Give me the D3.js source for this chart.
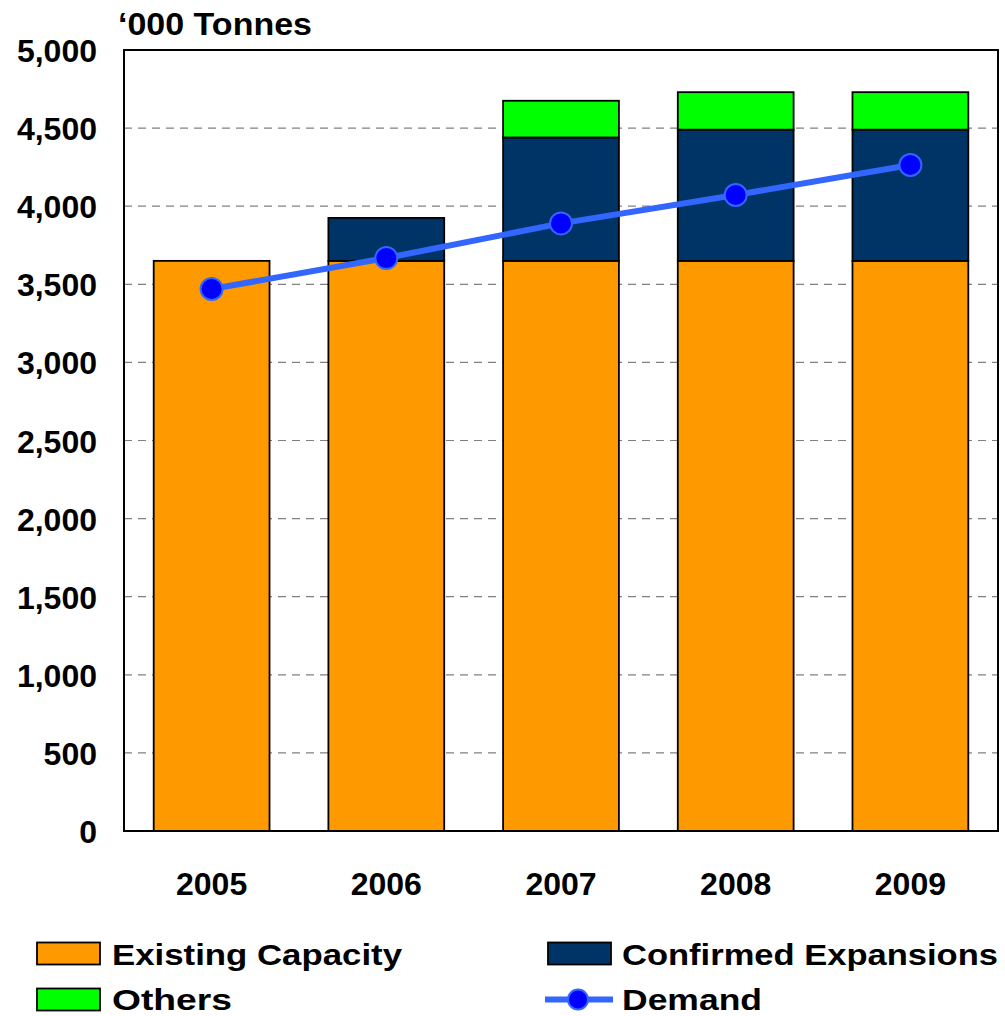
<!DOCTYPE html>
<html><head><meta charset="utf-8">
<script src="https://cdn.jsdelivr.net/npm/d3@7"></script>
<style>body{margin:0;background:#fff;}svg{display:block;font-family:"Liberation Sans",Arial,sans-serif;font-weight:bold;}</style>
</head><body>
<svg id="c" width="1005" height="1016"></svg>
<script>
const years = ["2005","2006","2007","2008","2009"];
const existing = [3650,3650,3650,3650,3650];
const confirmed = [0,275,790,840,840];
const others = [0,0,235,240,240];
const demand = [3470,3668,3890,4072,4264];
const yTicks = [0,500,1000,1500,2000,2500,3000,3500,4000,4500,5000];
const seriesNames = ["Existing Capacity","Confirmed Expansions","Others","Demand"];
const colors = {"Existing Capacity":"#FF9900","Confirmed Expansions":"#003366","Others":"#00FF00"};

const svg = d3.select("#c");
const L=124,R=998,T=50,B=831;
const x = d3.scaleBand().domain(years).range([L,R]).paddingInner(0.337).paddingOuter(0.17);
const y = d3.scaleLinear().domain([0,5000]).range([B,T]);

// grid
svg.append("g").selectAll("line").data(yTicks.filter(v=>v>0&&v<5000)).join("line")
  .attr("x1",L).attr("x2",R).attr("y1",d=>y(d)).attr("y2",d=>y(d))
  .attr("stroke","#808080").attr("stroke-width",1.2).attr("stroke-dasharray","8,6");

// stacked bars
const rows = years.map((yr,i)=>({year:yr,"Existing Capacity":existing[i],"Confirmed Expansions":confirmed[i],"Others":others[i]}));
const stack = d3.stack().keys(["Existing Capacity","Confirmed Expansions","Others"])(rows);
svg.append("g").selectAll("g").data(stack).join("g").attr("fill",d=>colors[d.key])
  .selectAll("rect").data(d=>d.filter(p=>p[1]-p[0]>0)).join("rect")
  .attr("x",d=>x(d.data.year)).attr("width",x.bandwidth())
  .attr("y",d=>y(d[1])).attr("height",d=>y(d[0])-y(d[1]))
  .attr("stroke","#000").attr("stroke-width",1.8);

// frame
svg.append("rect").attr("x",L).attr("y",T).attr("width",R-L).attr("height",B-T)
  .attr("fill","none").attr("stroke","#000").attr("stroke-width",2);

// demand line
const cx = d=>x(d)+x.bandwidth()/2;
svg.append("path").datum(demand.map((v,i)=>[cx(years[i]),y(v)]))
  .attr("d",d3.line()).attr("fill","none").attr("stroke","#3366FF").attr("stroke-width",6);
svg.append("g").selectAll("circle").data(demand).join("circle")
  .attr("cx",(d,i)=>cx(years[i])).attr("cy",d=>y(d)).attr("r",11)
  .attr("fill","#0000FF").attr("stroke","#3366FF").attr("stroke-width",2);

// y axis labels
const fmt = d3.format(",");
svg.append("g").selectAll("text").data(yTicks).join("text")
  .attr("x",97).attr("y",d=>y(d)+12).attr("text-anchor","end")
  .attr("font-size",32).text(d=>fmt(d));

// x labels
svg.append("g").selectAll("text").data(years).join("text")
  .attr("x",d=>cx(d)).attr("y",895).attr("text-anchor","middle")
  .attr("font-size",32).text(d=>d);

// unit title
svg.append("text").attr("x",118).attr("y",35).attr("font-size",32)
  .attr("textLength",194).attr("lengthAdjust","spacingAndGlyphs").text("\u2018000 Tonnes");

// legend
const leg = [
  {name:seriesNames[0],sx:37,tx:112,y:953.5,by:965,w:290},
  {name:seriesNames[1],sx:548,tx:622,y:953.5,by:965,w:376},
  {name:seriesNames[2],sx:37,tx:112,y:999.5,by:1010,w:120},
  {name:seriesNames[3],sx:548,tx:622,y:999.5,by:1010,w:140}
];
leg.forEach(l=>{
  if(l.name==="Demand"){
    svg.append("line").attr("x1",545).attr("x2",613).attr("y1",l.y).attr("y2",l.y)
      .attr("stroke","#3366FF").attr("stroke-width",6);
    svg.append("circle").attr("cx",578).attr("cy",l.y).attr("r",10)
      .attr("fill","#0000FF").attr("stroke","#3366FF").attr("stroke-width",2);
  } else {
    svg.append("rect").attr("x",l.sx).attr("y",l.y-11).attr("width",63).attr("height",22)
      .attr("fill",colors[l.name]).attr("stroke","#000").attr("stroke-width",1.8);
  }
  svg.append("text").attr("x",l.tx).attr("y",l.by).attr("font-size",30)
    .attr("textLength",l.w).attr("lengthAdjust","spacingAndGlyphs").text(l.name);
});
</script>
</body></html>
